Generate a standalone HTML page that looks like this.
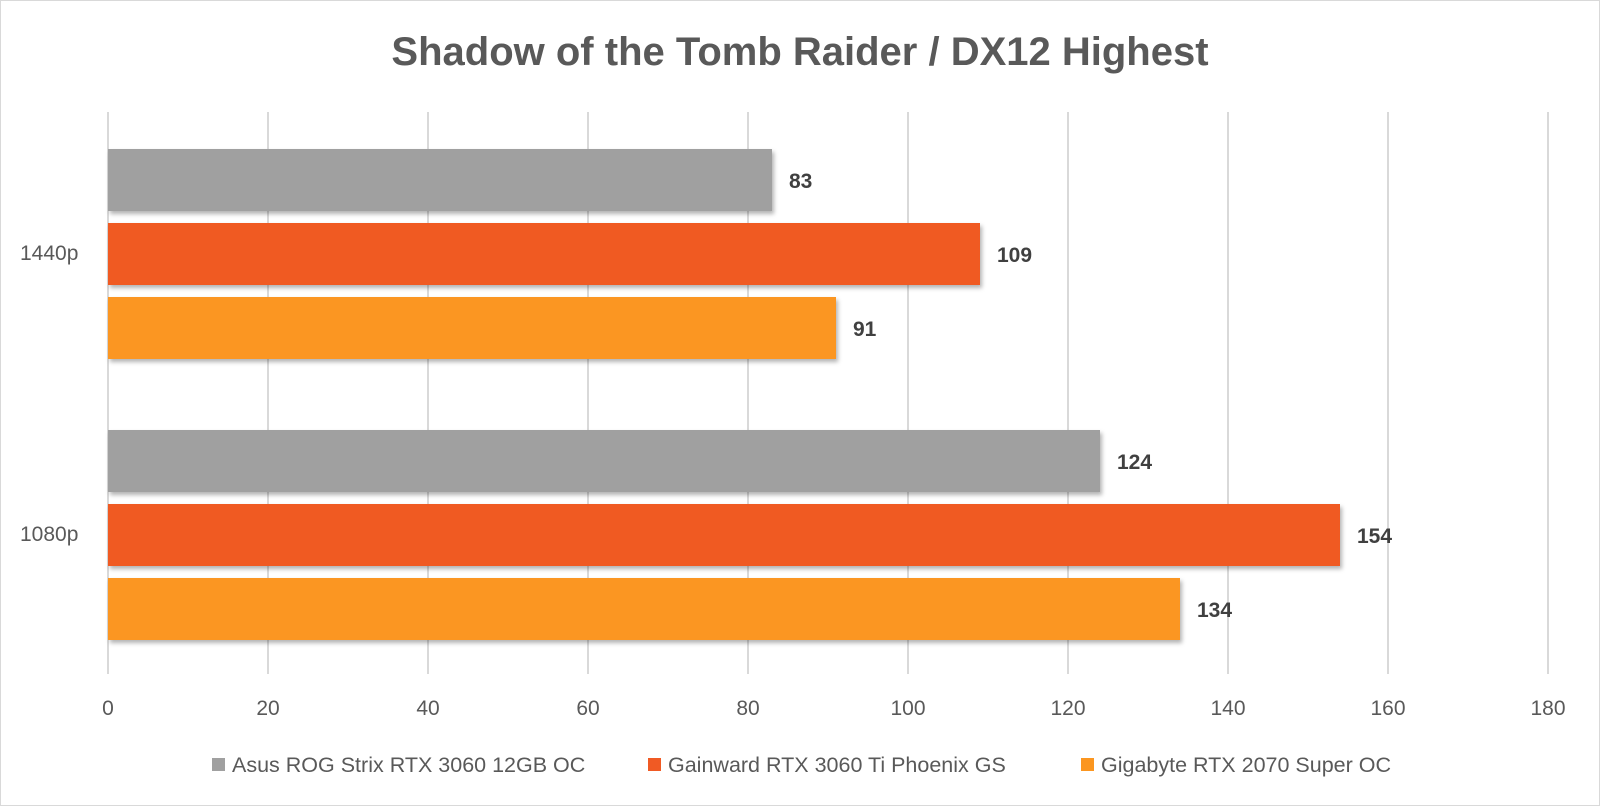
<!DOCTYPE html>
<html><head><meta charset="utf-8"><style>
body{margin:0;background:#fff;}
svg text{font-family:"Liberation Sans",sans-serif;}
</style></head><body>
<svg width="1600" height="807" xmlns="http://www.w3.org/2000/svg">
<defs><filter id="sh" x="-5%" y="-20%" width="110%" height="150%"><feDropShadow dx="2" dy="3" stdDeviation="2" flood-color="#000" flood-opacity="0.3"/></filter></defs>
<rect x="0.5" y="0.5" width="1599" height="805" fill="#fff" stroke="#d9d9d9"/>
<text x="800" y="65" text-anchor="middle" font-size="40" font-weight="bold" fill="#595959">Shadow of the Tomb Raider / DX12 Highest</text>
<g stroke="#d9d9d9" stroke-width="2">
<line x1="108" y1="112" x2="108" y2="674"/><line x1="268" y1="112" x2="268" y2="674"/><line x1="428" y1="112" x2="428" y2="674"/><line x1="588" y1="112" x2="588" y2="674"/><line x1="748" y1="112" x2="748" y2="674"/><line x1="908" y1="112" x2="908" y2="674"/><line x1="1068" y1="112" x2="1068" y2="674"/><line x1="1228" y1="112" x2="1228" y2="674"/><line x1="1388" y1="112" x2="1388" y2="674"/><line x1="1548" y1="112" x2="1548" y2="674"/>
</g>
<g filter="url(#sh)">
<rect x="108" y="149" width="664" height="62" fill="#a0a0a0"/>
<rect x="108" y="223" width="872" height="62" fill="#f05a24"/>
<rect x="108" y="297" width="728" height="62" fill="#fb9620"/>
<rect x="108" y="430" width="992" height="62" fill="#a0a0a0"/>
<rect x="108" y="504" width="1232" height="62" fill="#f05a24"/>
<rect x="108" y="578" width="1072" height="62" fill="#fb9620"/>
</g>
<g font-size="21" font-weight="bold" fill="#404040">
<text x="789" y="188">83</text><text x="997" y="262">109</text><text x="853" y="336">91</text>
<text x="1117" y="469">124</text><text x="1357" y="543">154</text><text x="1197" y="617">134</text>
</g>
<g font-size="21" fill="#595959">
<text x="20" y="260">1440p</text><text x="20" y="541">1080p</text>
</g>
<g font-size="21" fill="#595959" text-anchor="middle">
<text x="108" y="715">0</text><text x="268" y="715">20</text><text x="428" y="715">40</text><text x="588" y="715">60</text><text x="748" y="715">80</text><text x="908" y="715">100</text><text x="1068" y="715">120</text><text x="1228" y="715">140</text><text x="1388" y="715">160</text><text x="1548" y="715">180</text>
</g>
<g font-size="21.5" fill="#595959">
<rect x="212" y="758" width="13" height="13" fill="#a0a0a0"/><text x="232" y="772">Asus ROG Strix RTX 3060 12GB OC</text>
<rect x="648" y="758" width="13" height="13" fill="#f05a24"/><text x="668" y="772">Gainward RTX 3060 Ti Phoenix GS</text>
<rect x="1081" y="758" width="13" height="13" fill="#fb9620"/><text x="1101" y="772">Gigabyte RTX 2070 Super OC</text>
</g>
</svg>
</body></html>
